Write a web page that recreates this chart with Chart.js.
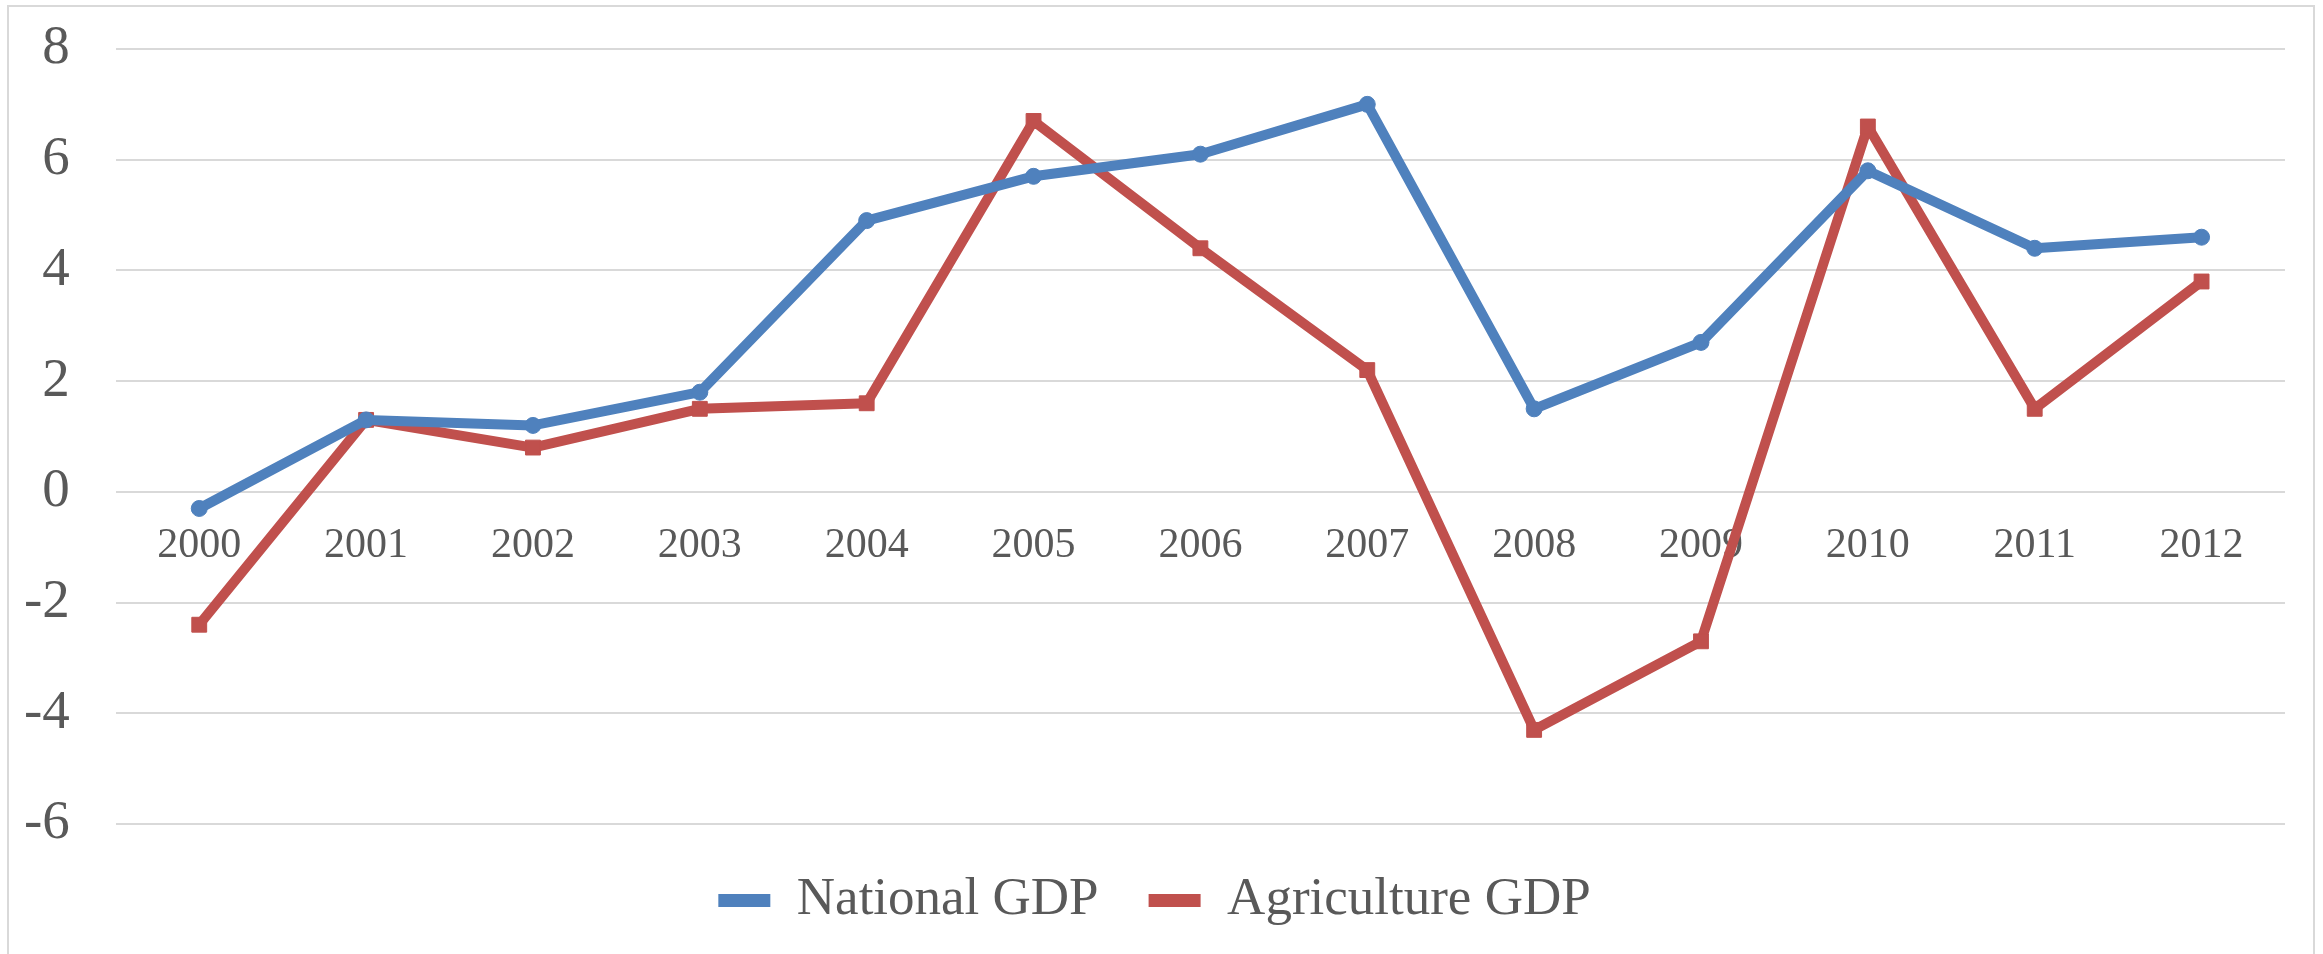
<!DOCTYPE html>
<html>
<head>
<meta charset="utf-8">
<script src="https://cdn.jsdelivr.net/npm/chart.js@4.4.1/dist/chart.umd.min.js"></script>
<style>
  html, body { margin: 0; padding: 0; background: #fff; overflow: hidden; }
  #frame { position: absolute; left: 7px; top: 5px; width: 2308px; height: 1000px; border: 2px solid #d9d9d9; box-sizing: border-box; }
  #wrap { position: absolute; left: 0; top: 0; width: 2323px; height: 980px; }
</style>
</head>
<body>
<div id="frame"></div>
<div id="wrap"><canvas id="gdpChart" width="2323" height="980"></canvas></div>
<script>
// growth rates, %
const years = ["2000", "2001", "2002", "2003", "2004", "2005", "2006",
               "2007", "2008", "2009", "2010", "2011", "2012"];
const nationalGdp = [-0.3, 1.3, 1.2, 1.8, 4.9, 5.7, 6.1, 7.0, 1.5, 2.7, 5.8, 4.4, 4.6];
const agricultureGdp = [-2.4, 1.3, 0.8, 1.5, 1.6, 6.7, 4.4, 2.2, -4.3, -2.7, 6.6, 1.5, 3.8];

const serif = "'Liberation Serif', 'Times New Roman', serif";
const textGrey = "#595959";

function makeSeries(label, values, color, pointStyle, radius) {
    return {
        label: label,
        data: values,
        borderColor: color,
        backgroundColor: color,
        borderWidth: 10,
        tension: 0,
        pointStyle: pointStyle,
        pointRadius: radius,
        pointBackgroundColor: color,
        pointBorderColor: color,
        pointBorderWidth: 1,
        borderJoinStyle: "round"
    };
}

const national = makeSeries("National GDP", nationalGdp, "#4f81bd", "circle", 8);
const agriculture = makeSeries("Agriculture GDP", agricultureGdp, "#c0504d", "rect", 10.5);

// keep label overhang from pushing the plot area around
function noOverhang(scale) {
    scale.paddingLeft = 0;
    scale.paddingRight = 0;
    scale.paddingTop = 0;
    scale.paddingBottom = 0;
}

const ctx = document.getElementById("gdpChart");

let chart1 = new Chart(ctx, {
    type: "line",
    data: {
        labels: years,
        datasets: [national, agriculture]
    },
    options: {
        responsive: false,
        animation: false,
        devicePixelRatio: 1,
        layout: {
            padding: { left: 24, right: 38, top: 49, bottom: 43 }
        },
        plugins: {
            tooltip: { enabled: false },
            legend: {
                position: "bottom",
                labels: {
                    font: { family: serif, size: 53 },
                    color: textGrey,
                    boxWidth: 52,
                    boxHeight: 13,
                    padding: 50,
                    generateLabels: function (chart) {
                        // flat coloured bars instead of stroked boxes
                        return chart.data.datasets.map(function (ds, i) {
                            return {
                                text: ds.label,
                                fillStyle: ds.borderColor,
                                strokeStyle: ds.borderColor,
                                lineWidth: 0,
                                fontColor: textGrey,
                                hidden: false,
                                datasetIndex: i
                            };
                        });
                    }
                }
            }
        },
        scales: {
            x: {
                position: { y: 0 },
                offset: true,
                grid: { display: false, drawTicks: false },
                border: { display: false },
                afterFit: noOverhang,
                ticks: {
                    font: { family: serif, size: 42 },
                    color: textGrey,
                    padding: 29,
                    maxRotation: 0,
                    autoSkip: false
                }
            },
            y: {
                min: -6,
                max: 8,
                grid: { color: "#d9d9d9", lineWidth: 2, drawTicks: false },
                border: { display: false },
                afterFit: function (scale) {
                    noOverhang(scale);
                    // padding is only wanted between labels and plot
                    scale.width -= scale.options.ticks.padding;
                },
                ticks: {
                    stepSize: 2,
                    font: { family: serif, size: 55 },
                    color: textGrey,
                    padding: 46
                }
            }
        }
    }
});
</script>
</body>
</html>
